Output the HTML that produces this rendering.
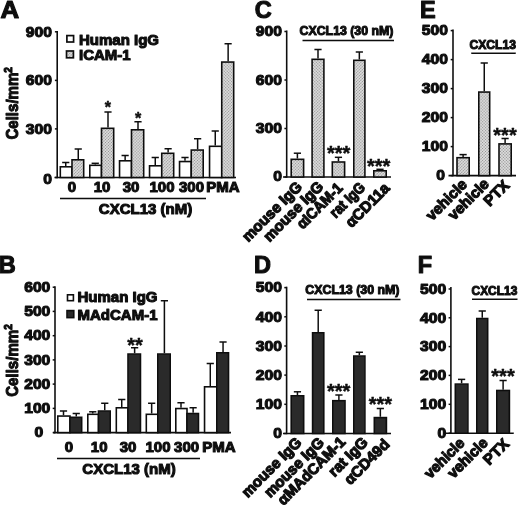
<!DOCTYPE html>
<html lang="en"><head><meta charset="utf-8"><title>CXCL13 adhesion assays</title>
<style>
html,body{margin:0;padding:0;background:#fff;}
svg{display:block;}
svg text{font-family:"Liberation Sans", Arial, Helvetica, sans-serif;font-weight:bold;fill:#111;stroke:#111;stroke-width:1.1px;stroke-linejoin:round;}
</style></head><body>
<svg width="520" height="507" viewBox="0 0 520 507">
<defs><pattern id="ht" width="2.1" height="2.1" patternUnits="userSpaceOnUse" patternTransform="rotate(45)"><rect width="2.1" height="2.1" fill="#e0e0e0"/><circle cx="1.05" cy="1.05" r="0.62" fill="#8c8c8c"/></pattern><filter id="soft" x="0" y="0" width="100%" height="100%" filterUnits="userSpaceOnUse"><feGaussianBlur stdDeviation="0.35"/></filter></defs>
<rect width="520" height="507" fill="#fff"/>
<g filter="url(#soft)">
<text transform="translate(0.4 18.3) scale(1.1 1)" font-size="23.5">A</text>
<line x1="57.2" y1="30.900000000000002" x2="57.2" y2="178.2" stroke="#111" stroke-width="1.6"/>
<line x1="54.900000000000006" y1="31.8" x2="57.2" y2="31.8" stroke="#111" stroke-width="1.5"/>
<text transform="translate(52.00 36.57) scale(1.045 1)" font-size="15" text-anchor="end">900</text>
<line x1="54.900000000000006" y1="80.4" x2="57.2" y2="80.4" stroke="#111" stroke-width="1.5"/>
<text transform="translate(52.00 85.17) scale(1.045 1)" font-size="15" text-anchor="end">600</text>
<line x1="54.900000000000006" y1="128.9" x2="57.2" y2="128.9" stroke="#111" stroke-width="1.5"/>
<text transform="translate(52.00 133.67) scale(1.045 1)" font-size="15" text-anchor="end">300</text>
<line x1="54.900000000000006" y1="177.5" x2="57.2" y2="177.5" stroke="#111" stroke-width="1.5"/>
<text transform="translate(52.00 183.57) scale(1.045 1)" font-size="15" text-anchor="end">0</text>
<line x1="54.5" y1="177.5" x2="236" y2="177.5" stroke="#111" stroke-width="1.6"/>
<rect x="60.30" y="166.80" width="11.70" height="10.70" fill="#fff" stroke="#111" stroke-width="1.6"/>
<line x1="65.75" y1="166" x2="65.75" y2="162.5" stroke="#111" stroke-width="1.5"/>
<line x1="62.15" y1="162.5" x2="69.35" y2="162.5" stroke="#111" stroke-width="1.5"/>
<rect x="72.00" y="159.80" width="11.70" height="17.70" fill="url(#ht)" stroke="#111" stroke-width="1.6"/>
<line x1="78.25" y1="159" x2="78.25" y2="149" stroke="#111" stroke-width="1.5"/>
<line x1="74.65" y1="149" x2="81.85" y2="149" stroke="#111" stroke-width="1.5"/>
<rect x="89.80" y="165.30" width="11.70" height="12.20" fill="#fff" stroke="#111" stroke-width="1.6"/>
<line x1="95.25" y1="164.5" x2="95.25" y2="163.3" stroke="#111" stroke-width="1.5"/>
<line x1="91.65" y1="163.3" x2="98.85" y2="163.3" stroke="#111" stroke-width="1.5"/>
<rect x="101.50" y="128.30" width="12.20" height="49.20" fill="url(#ht)" stroke="#111" stroke-width="1.6"/>
<line x1="108.0" y1="127.5" x2="108.0" y2="112" stroke="#111" stroke-width="1.5"/>
<line x1="104.4" y1="112" x2="111.6" y2="112" stroke="#111" stroke-width="1.5"/>
<rect x="119.55" y="160.80" width="11.95" height="16.70" fill="#fff" stroke="#111" stroke-width="1.6"/>
<line x1="125.125" y1="160" x2="125.125" y2="155.5" stroke="#111" stroke-width="1.5"/>
<line x1="121.525" y1="155.5" x2="128.725" y2="155.5" stroke="#111" stroke-width="1.5"/>
<rect x="131.50" y="129.80" width="12.20" height="47.70" fill="url(#ht)" stroke="#111" stroke-width="1.6"/>
<line x1="138.0" y1="129" x2="138.0" y2="121.75" stroke="#111" stroke-width="1.5"/>
<line x1="134.4" y1="121.75" x2="141.6" y2="121.75" stroke="#111" stroke-width="1.5"/>
<rect x="149.55" y="165.80" width="12.20" height="11.70" fill="#fff" stroke="#111" stroke-width="1.6"/>
<line x1="155.25" y1="165" x2="155.25" y2="157.5" stroke="#111" stroke-width="1.5"/>
<line x1="151.65" y1="157.5" x2="158.85" y2="157.5" stroke="#111" stroke-width="1.5"/>
<rect x="161.75" y="153.30" width="11.95" height="24.20" fill="url(#ht)" stroke="#111" stroke-width="1.6"/>
<line x1="168.125" y1="152.5" x2="168.125" y2="148.75" stroke="#111" stroke-width="1.5"/>
<line x1="164.525" y1="148.75" x2="171.725" y2="148.75" stroke="#111" stroke-width="1.5"/>
<rect x="179.55" y="161.55" width="11.70" height="15.95" fill="#fff" stroke="#111" stroke-width="1.6"/>
<line x1="185.0" y1="160.75" x2="185.0" y2="157.5" stroke="#111" stroke-width="1.5"/>
<line x1="181.4" y1="157.5" x2="188.6" y2="157.5" stroke="#111" stroke-width="1.5"/>
<rect x="191.25" y="150.05" width="11.95" height="27.45" fill="url(#ht)" stroke="#111" stroke-width="1.6"/>
<line x1="197.625" y1="149.25" x2="197.625" y2="138.75" stroke="#111" stroke-width="1.5"/>
<line x1="194.025" y1="138.75" x2="201.225" y2="138.75" stroke="#111" stroke-width="1.5"/>
<rect x="209.55" y="146.30" width="12.20" height="31.20" fill="#fff" stroke="#111" stroke-width="1.6"/>
<line x1="215.25" y1="145.5" x2="215.25" y2="131" stroke="#111" stroke-width="1.5"/>
<line x1="211.65" y1="131" x2="218.85" y2="131" stroke="#111" stroke-width="1.5"/>
<rect x="221.75" y="62.05" width="11.95" height="115.45" fill="url(#ht)" stroke="#111" stroke-width="1.6"/>
<line x1="228.125" y1="61.25" x2="228.125" y2="43.75" stroke="#111" stroke-width="1.5"/>
<line x1="224.525" y1="43.75" x2="231.725" y2="43.75" stroke="#111" stroke-width="1.5"/>
<text x="72" y="192.3" font-size="15" text-anchor="middle">0</text>
<text x="102" y="192.3" font-size="15" text-anchor="middle">10</text>
<text x="131" y="192.3" font-size="15" text-anchor="middle">30</text>
<text x="162" y="192.3" font-size="15" text-anchor="middle">100</text>
<text x="191.5" y="192.3" font-size="15" text-anchor="middle">300</text>
<text x="223" y="192.3" font-size="15" text-anchor="middle">PMA</text>
<line x1="60" y1="198.5" x2="206" y2="198.5" stroke="#111" stroke-width="1.6"/>
<text x="145.5" y="214" font-size="15" text-anchor="middle">CXCL13 (nM)</text>
<text x="107.8" y="112.9" font-size="16" text-anchor="middle" style="stroke-width:0.45px">*</text>
<text x="138.2" y="123.7" font-size="16" text-anchor="middle" style="stroke-width:0.45px">*</text>
<rect x="66.9" y="35.6" width="6.7" height="6.4" fill="#fff" stroke="#111" stroke-width="1.7"/>
<rect x="66.5" y="51" width="6.9" height="6.8" fill="url(#ht)" stroke="#111" stroke-width="1.7"/>
<text x="79" y="45" font-size="15" text-anchor="start">Human IgG</text>
<text x="79" y="60" font-size="15" text-anchor="start">ICAM-1</text>
<text transform="translate(17.7 103.3) rotate(-90) scale(0.875 1)" font-size="17.2" text-anchor="middle">Cells/mm<tspan font-size="11.5" dy="-5.5">2</tspan></text>
<text x="-1.2" y="272.9" font-size="23.5" text-anchor="start">B</text>
<line x1="55" y1="286.3" x2="55" y2="433.3" stroke="#111" stroke-width="1.6"/>
<line x1="52.7" y1="287.2" x2="55" y2="287.2" stroke="#111" stroke-width="1.5"/>
<text transform="translate(50.30 291.97) scale(1.045 1)" font-size="15" text-anchor="end">600</text>
<line x1="52.7" y1="311.4" x2="55" y2="311.4" stroke="#111" stroke-width="1.5"/>
<text transform="translate(50.30 316.17) scale(1.045 1)" font-size="15" text-anchor="end">500</text>
<line x1="52.7" y1="335.7" x2="55" y2="335.7" stroke="#111" stroke-width="1.5"/>
<text transform="translate(50.30 340.47) scale(1.045 1)" font-size="15" text-anchor="end">400</text>
<line x1="52.7" y1="359.9" x2="55" y2="359.9" stroke="#111" stroke-width="1.5"/>
<text transform="translate(50.30 364.67) scale(1.045 1)" font-size="15" text-anchor="end">300</text>
<line x1="52.7" y1="384.1" x2="55" y2="384.1" stroke="#111" stroke-width="1.5"/>
<text transform="translate(50.30 388.87) scale(1.045 1)" font-size="15" text-anchor="end">200</text>
<line x1="52.7" y1="408.4" x2="55" y2="408.4" stroke="#111" stroke-width="1.5"/>
<text transform="translate(50.30 413.17) scale(1.045 1)" font-size="15" text-anchor="end">100</text>
<line x1="52.7" y1="432.6" x2="55" y2="432.6" stroke="#111" stroke-width="1.5"/>
<text transform="translate(43.30 436.67) scale(1.045 1)" font-size="15" text-anchor="end">0</text>
<line x1="53.3" y1="432.6" x2="231" y2="432.6" stroke="#111" stroke-width="1.6"/>
<rect x="57.80" y="416.05" width="12.20" height="16.55" fill="#fff" stroke="#111" stroke-width="1.6"/>
<line x1="63.5" y1="415.25" x2="63.5" y2="411" stroke="#111" stroke-width="1.5"/>
<line x1="59.9" y1="411" x2="67.1" y2="411" stroke="#111" stroke-width="1.5"/>
<rect x="70.00" y="417.30" width="11.70" height="15.30" fill="#2b2b2b" stroke="#111" stroke-width="1.6"/>
<line x1="76.25" y1="416.5" x2="76.25" y2="413.5" stroke="#111" stroke-width="1.5"/>
<line x1="72.65" y1="413.5" x2="79.85" y2="413.5" stroke="#111" stroke-width="1.5"/>
<rect x="87.80" y="414.30" width="10.70" height="18.30" fill="#fff" stroke="#111" stroke-width="1.6"/>
<line x1="92.75" y1="413.5" x2="92.75" y2="411.8" stroke="#111" stroke-width="1.5"/>
<line x1="89.15" y1="411.8" x2="96.35" y2="411.8" stroke="#111" stroke-width="1.5"/>
<rect x="98.50" y="411.05" width="11.70" height="21.55" fill="#2b2b2b" stroke="#111" stroke-width="1.6"/>
<line x1="104.75" y1="410.25" x2="104.75" y2="403.25" stroke="#111" stroke-width="1.5"/>
<line x1="101.15" y1="403.25" x2="108.35" y2="403.25" stroke="#111" stroke-width="1.5"/>
<rect x="116.30" y="407.80" width="11.70" height="24.80" fill="#fff" stroke="#111" stroke-width="1.6"/>
<line x1="121.75" y1="407" x2="121.75" y2="399.5" stroke="#111" stroke-width="1.5"/>
<line x1="118.15" y1="399.5" x2="125.35" y2="399.5" stroke="#111" stroke-width="1.5"/>
<rect x="128.00" y="354.05" width="12.45" height="78.55" fill="#2b2b2b" stroke="#111" stroke-width="1.6"/>
<line x1="134.625" y1="353.25" x2="134.625" y2="347.75" stroke="#111" stroke-width="1.5"/>
<line x1="131.025" y1="347.75" x2="138.225" y2="347.75" stroke="#111" stroke-width="1.5"/>
<rect x="146.30" y="414.30" width="11.50" height="18.30" fill="#fff" stroke="#111" stroke-width="1.6"/>
<line x1="151.65" y1="413.5" x2="151.65" y2="403.25" stroke="#111" stroke-width="1.5"/>
<line x1="148.05" y1="403.25" x2="155.25" y2="403.25" stroke="#111" stroke-width="1.5"/>
<rect x="157.80" y="354.05" width="12.40" height="78.55" fill="#2b2b2b" stroke="#111" stroke-width="1.6"/>
<line x1="164.4" y1="353.25" x2="164.4" y2="300.75" stroke="#111" stroke-width="1.5"/>
<line x1="160.8" y1="300.75" x2="168.0" y2="300.75" stroke="#111" stroke-width="1.5"/>
<rect x="175.80" y="408.55" width="11.20" height="24.05" fill="#fff" stroke="#111" stroke-width="1.6"/>
<line x1="181.0" y1="407.75" x2="181.0" y2="402.75" stroke="#111" stroke-width="1.5"/>
<line x1="177.4" y1="402.75" x2="184.6" y2="402.75" stroke="#111" stroke-width="1.5"/>
<rect x="187.00" y="413.55" width="11.45" height="19.05" fill="#2b2b2b" stroke="#111" stroke-width="1.6"/>
<line x1="193.125" y1="412.75" x2="193.125" y2="407.75" stroke="#111" stroke-width="1.5"/>
<line x1="189.525" y1="407.75" x2="196.725" y2="407.75" stroke="#111" stroke-width="1.5"/>
<rect x="204.55" y="386.80" width="12.25" height="45.80" fill="#fff" stroke="#111" stroke-width="1.6"/>
<line x1="210.275" y1="386" x2="210.275" y2="363.5" stroke="#111" stroke-width="1.5"/>
<line x1="206.675" y1="363.5" x2="213.875" y2="363.5" stroke="#111" stroke-width="1.5"/>
<rect x="216.80" y="352.80" width="11.70" height="79.80" fill="#2b2b2b" stroke="#111" stroke-width="1.6"/>
<line x1="223.05" y1="352" x2="223.05" y2="342" stroke="#111" stroke-width="1.5"/>
<line x1="219.45000000000002" y1="342" x2="226.65" y2="342" stroke="#111" stroke-width="1.5"/>
<text x="69" y="452" font-size="15" text-anchor="middle">0</text>
<text x="99.2" y="452" font-size="15" text-anchor="middle">10</text>
<text x="128" y="452" font-size="15" text-anchor="middle">30</text>
<text x="158" y="452" font-size="15" text-anchor="middle">100</text>
<text x="186.6" y="452" font-size="15" text-anchor="middle">300</text>
<text x="219" y="452" font-size="15" text-anchor="middle">PMA</text>
<line x1="57" y1="458.5" x2="200" y2="458.5" stroke="#111" stroke-width="1.6"/>
<text x="129" y="474" font-size="15" text-anchor="middle">CXCL13 (nM)</text>
<text x="135" y="351.5" font-size="20" text-anchor="middle" style="stroke-width:0.45px">**</text>
<rect x="67.5" y="294.8" width="5.9" height="5.9" fill="#fff" stroke="#111" stroke-width="1.6"/>
<rect x="67" y="310.6" width="6.8" height="7" fill="#2b2b2b" stroke="#111" stroke-width="1.6"/>
<text x="77.5" y="302" font-size="15" text-anchor="start">Human IgG</text>
<text x="77.5" y="319.5" font-size="15" text-anchor="start">MAdCAM-1</text>
<text transform="translate(17.7 360.5) rotate(-90) scale(0.875 1)" font-size="17.2" text-anchor="middle">Cells/mm<tspan font-size="11.5" dy="-5.5">2</tspan></text>
<text x="254.8" y="18.2" font-size="23.5" text-anchor="start">C</text>
<line x1="286.7" y1="30.5" x2="286.7" y2="177.7" stroke="#111" stroke-width="1.6"/>
<line x1="284.4" y1="31.5" x2="286.7" y2="31.5" stroke="#111" stroke-width="1.5"/>
<text transform="translate(282.00 36.27) scale(1.045 1)" font-size="15" text-anchor="end">900</text>
<line x1="284.4" y1="80" x2="286.7" y2="80" stroke="#111" stroke-width="1.5"/>
<text transform="translate(282.00 84.77) scale(1.045 1)" font-size="15" text-anchor="end">600</text>
<line x1="284.4" y1="128.5" x2="286.7" y2="128.5" stroke="#111" stroke-width="1.5"/>
<text transform="translate(282.00 133.27) scale(1.045 1)" font-size="15" text-anchor="end">300</text>
<line x1="284.4" y1="177" x2="286.7" y2="177" stroke="#111" stroke-width="1.5"/>
<text transform="translate(282.00 180.67) scale(1.045 1)" font-size="15" text-anchor="end">0</text>
<line x1="283" y1="177" x2="391" y2="177" stroke="#111" stroke-width="1.6"/>
<rect x="291.20" y="159.30" width="12.40" height="17.70" fill="url(#ht)" stroke="#111" stroke-width="1.6"/>
<line x1="297.4" y1="158.5" x2="297.4" y2="153.2" stroke="#111" stroke-width="1.5"/>
<line x1="293.79999999999995" y1="153.2" x2="301.0" y2="153.2" stroke="#111" stroke-width="1.5"/>
<rect x="312.10" y="59.30" width="11.80" height="117.70" fill="url(#ht)" stroke="#111" stroke-width="1.6"/>
<line x1="318.0" y1="58.5" x2="318.0" y2="49.5" stroke="#111" stroke-width="1.5"/>
<line x1="314.4" y1="49.5" x2="321.6" y2="49.5" stroke="#111" stroke-width="1.5"/>
<rect x="332.30" y="162.00" width="12.30" height="15.00" fill="url(#ht)" stroke="#111" stroke-width="1.6"/>
<line x1="338.45" y1="161.2" x2="338.45" y2="157.3" stroke="#111" stroke-width="1.5"/>
<line x1="334.84999999999997" y1="157.3" x2="342.05" y2="157.3" stroke="#111" stroke-width="1.5"/>
<rect x="353.80" y="60.30" width="11.10" height="116.70" fill="url(#ht)" stroke="#111" stroke-width="1.6"/>
<line x1="359.35" y1="59.5" x2="359.35" y2="52" stroke="#111" stroke-width="1.5"/>
<line x1="355.75" y1="52" x2="362.95000000000005" y2="52" stroke="#111" stroke-width="1.5"/>
<rect x="373.80" y="170.80" width="12.40" height="6.20" fill="url(#ht)" stroke="#111" stroke-width="1.6"/>
<line x1="380.0" y1="170" x2="380.0" y2="169.3" stroke="#111" stroke-width="1.5"/>
<line x1="376.4" y1="169.3" x2="383.6" y2="169.3" stroke="#111" stroke-width="1.5"/>
<text x="299.6" y="34.6" font-size="13.6" text-anchor="start" textLength="93.8" lengthAdjust="spacingAndGlyphs">CXCL13 (30 nM)</text>
<line x1="302.5" y1="40.5" x2="394" y2="40.5" stroke="#111" stroke-width="1.6"/>
<text x="338.6" y="159.7" font-size="20" text-anchor="middle" style="stroke-width:0.45px">***</text>
<text x="378.6" y="172.7" font-size="20" text-anchor="middle" style="stroke-width:0.45px">***</text>
<text transform="translate(303 187.8) rotate(-45) scale(1 1)" font-size="15" text-anchor="end" style="stroke-width:1.2px">mouse IgG</text>
<text transform="translate(324.2 187.6) rotate(-45) scale(1 1)" font-size="15" text-anchor="end" style="stroke-width:1.2px">mouse IgG</text>
<text transform="translate(343.7 189) rotate(-45) scale(0.95 1)" font-size="15" text-anchor="end" style="stroke-width:1.2px">αICAM-1</text>
<text transform="translate(366.2 188.3) rotate(-45) scale(0.89 1)" font-size="15" text-anchor="end" style="stroke-width:1.2px">rat IgG</text>
<text transform="translate(390.5 189.2) rotate(-45) scale(1 1)" font-size="15" text-anchor="end" style="stroke-width:1.2px">αCD11a</text>
<text x="254.1" y="273.1" font-size="23.5" text-anchor="start">D</text>
<line x1="286.6" y1="286.7" x2="286.6" y2="434.2" stroke="#111" stroke-width="1.6"/>
<line x1="284.3" y1="287.6" x2="286.6" y2="287.6" stroke="#111" stroke-width="1.5"/>
<text transform="translate(282.00 292.37) scale(1.045 1)" font-size="15" text-anchor="end">500</text>
<line x1="284.3" y1="316.8" x2="286.6" y2="316.8" stroke="#111" stroke-width="1.5"/>
<text transform="translate(282.00 321.57) scale(1.045 1)" font-size="15" text-anchor="end">400</text>
<line x1="284.3" y1="346" x2="286.6" y2="346" stroke="#111" stroke-width="1.5"/>
<text transform="translate(282.00 350.77) scale(1.045 1)" font-size="15" text-anchor="end">300</text>
<line x1="284.3" y1="375.1" x2="286.6" y2="375.1" stroke="#111" stroke-width="1.5"/>
<text transform="translate(282.00 379.87) scale(1.045 1)" font-size="15" text-anchor="end">200</text>
<line x1="284.3" y1="404.3" x2="286.6" y2="404.3" stroke="#111" stroke-width="1.5"/>
<text transform="translate(282.00 409.07) scale(1.045 1)" font-size="15" text-anchor="end">100</text>
<line x1="284.3" y1="433.5" x2="286.6" y2="433.5" stroke="#111" stroke-width="1.5"/>
<text transform="translate(282.00 438.27) scale(1.045 1)" font-size="15" text-anchor="end">0</text>
<line x1="283" y1="433.5" x2="391" y2="433.5" stroke="#111" stroke-width="1.6"/>
<rect x="291.20" y="395.80" width="12.50" height="37.70" fill="#2b2b2b" stroke="#111" stroke-width="1.6"/>
<line x1="297.45" y1="395" x2="297.45" y2="391.8" stroke="#111" stroke-width="1.5"/>
<line x1="293.84999999999997" y1="391.8" x2="301.05" y2="391.8" stroke="#111" stroke-width="1.5"/>
<rect x="312.60" y="332.80" width="11.20" height="100.70" fill="#2b2b2b" stroke="#111" stroke-width="1.6"/>
<line x1="318.20000000000005" y1="332" x2="318.20000000000005" y2="310.25" stroke="#111" stroke-width="1.5"/>
<line x1="314.6" y1="310.25" x2="321.80000000000007" y2="310.25" stroke="#111" stroke-width="1.5"/>
<rect x="332.80" y="400.70" width="12.20" height="32.80" fill="#2b2b2b" stroke="#111" stroke-width="1.6"/>
<line x1="338.9" y1="399.9" x2="338.9" y2="395" stroke="#111" stroke-width="1.5"/>
<line x1="335.29999999999995" y1="395" x2="342.5" y2="395" stroke="#111" stroke-width="1.5"/>
<rect x="353.80" y="356.05" width="11.10" height="77.45" fill="#2b2b2b" stroke="#111" stroke-width="1.6"/>
<line x1="359.35" y1="355.25" x2="359.35" y2="352.25" stroke="#111" stroke-width="1.5"/>
<line x1="355.75" y1="352.25" x2="362.95000000000005" y2="352.25" stroke="#111" stroke-width="1.5"/>
<rect x="374.30" y="417.60" width="12.10" height="15.90" fill="#2b2b2b" stroke="#111" stroke-width="1.6"/>
<line x1="380.35" y1="416.8" x2="380.35" y2="408.5" stroke="#111" stroke-width="1.5"/>
<line x1="376.75" y1="408.5" x2="383.95000000000005" y2="408.5" stroke="#111" stroke-width="1.5"/>
<text x="305.3" y="293.9" font-size="13.6" text-anchor="start" textLength="94.2" lengthAdjust="spacingAndGlyphs">CXCL13 (30 nM)</text>
<line x1="307" y1="299.5" x2="400.5" y2="299.5" stroke="#111" stroke-width="1.6"/>
<text x="338.7" y="397.7" font-size="20" text-anchor="middle" style="stroke-width:0.45px">***</text>
<text x="380.4" y="410.8" font-size="20" text-anchor="middle" style="stroke-width:0.45px">***</text>
<text transform="translate(302.5 443.4) rotate(-45) scale(1 1)" font-size="15" text-anchor="end" style="stroke-width:1.2px">mouse IgG</text>
<text transform="translate(325 443.5) rotate(-45) scale(1 1)" font-size="15" text-anchor="end" style="stroke-width:1.2px">mouse IgG</text>
<text transform="translate(346.5 442.8) rotate(-45) scale(1 1)" font-size="15" text-anchor="end" style="stroke-width:1.2px">αMAdCAM-1</text>
<text transform="translate(368.8 443.2) rotate(-45) scale(1 1)" font-size="15" text-anchor="end" style="stroke-width:1.2px">rat IgG</text>
<text transform="translate(390.4 445.3) rotate(-45) scale(1 1)" font-size="15" text-anchor="end" style="stroke-width:1.2px">αCD49d</text>
<text x="420.1" y="18.3" font-size="23.5" text-anchor="start">E</text>
<line x1="453.0" y1="29.6" x2="453.0" y2="176.29999999999998" stroke="#111" stroke-width="1.6"/>
<line x1="450.7" y1="30.6" x2="453.0" y2="30.6" stroke="#111" stroke-width="1.5"/>
<text transform="translate(448.00 35.37) scale(1.045 1)" font-size="15" text-anchor="end">500</text>
<line x1="450.7" y1="59.6" x2="453.0" y2="59.6" stroke="#111" stroke-width="1.5"/>
<text transform="translate(448.00 64.37) scale(1.045 1)" font-size="15" text-anchor="end">400</text>
<line x1="450.7" y1="88.6" x2="453.0" y2="88.6" stroke="#111" stroke-width="1.5"/>
<text transform="translate(448.00 93.37) scale(1.045 1)" font-size="15" text-anchor="end">300</text>
<line x1="450.7" y1="117.6" x2="453.0" y2="117.6" stroke="#111" stroke-width="1.5"/>
<text transform="translate(448.00 122.37) scale(1.045 1)" font-size="15" text-anchor="end">200</text>
<line x1="450.7" y1="146.6" x2="453.0" y2="146.6" stroke="#111" stroke-width="1.5"/>
<text transform="translate(448.00 151.37) scale(1.045 1)" font-size="15" text-anchor="end">100</text>
<line x1="450.7" y1="175.6" x2="453.0" y2="175.6" stroke="#111" stroke-width="1.5"/>
<text transform="translate(445.00 180.37) scale(1.045 1)" font-size="15" text-anchor="end">0</text>
<line x1="448.5" y1="175.6" x2="516" y2="175.6" stroke="#111" stroke-width="1.6"/>
<rect x="457.00" y="157.70" width="12.20" height="17.90" fill="url(#ht)" stroke="#111" stroke-width="1.6"/>
<line x1="463.1" y1="156.9" x2="463.1" y2="154.6" stroke="#111" stroke-width="1.5"/>
<line x1="459.5" y1="154.6" x2="466.70000000000005" y2="154.6" stroke="#111" stroke-width="1.5"/>
<rect x="478.80" y="92.05" width="10.90" height="83.55" fill="url(#ht)" stroke="#111" stroke-width="1.6"/>
<line x1="484.25" y1="91.25" x2="484.25" y2="63" stroke="#111" stroke-width="1.5"/>
<line x1="480.65" y1="63" x2="487.85" y2="63" stroke="#111" stroke-width="1.5"/>
<rect x="499.00" y="143.90" width="12.20" height="31.70" fill="url(#ht)" stroke="#111" stroke-width="1.6"/>
<line x1="505.1" y1="143.1" x2="505.1" y2="138.5" stroke="#111" stroke-width="1.5"/>
<line x1="501.5" y1="138.5" x2="508.70000000000005" y2="138.5" stroke="#111" stroke-width="1.5"/>
<text x="469.5" y="48.7" font-size="13.6" text-anchor="start" textLength="46.5" lengthAdjust="spacingAndGlyphs">CXCL13</text>
<line x1="471.25" y1="53.25" x2="515.75" y2="53.25" stroke="#111" stroke-width="1.6"/>
<text x="505" y="141.7" font-size="20" text-anchor="middle" style="stroke-width:0.45px">***</text>
<text transform="translate(468 185.3) rotate(-45) scale(1 1)" font-size="15" text-anchor="end" style="stroke-width:1.2px">vehicle</text>
<text transform="translate(490 184.8) rotate(-45) scale(1 1)" font-size="15" text-anchor="end" style="stroke-width:1.2px">vehicle</text>
<text transform="translate(510.3 186.3) rotate(-45) scale(1 1)" font-size="15" text-anchor="end" style="stroke-width:1.2px">PTX</text>
<text x="417.8" y="273.2" font-size="23.5" text-anchor="start">F</text>
<line x1="450.9" y1="287.0" x2="450.9" y2="433.9" stroke="#111" stroke-width="1.6"/>
<line x1="448.59999999999997" y1="289" x2="450.9" y2="289" stroke="#111" stroke-width="1.5"/>
<text transform="translate(446.20 293.77) scale(1.045 1)" font-size="15" text-anchor="end">500</text>
<line x1="448.59999999999997" y1="317.8" x2="450.9" y2="317.8" stroke="#111" stroke-width="1.5"/>
<text transform="translate(446.20 322.57) scale(1.045 1)" font-size="15" text-anchor="end">400</text>
<line x1="448.59999999999997" y1="346.6" x2="450.9" y2="346.6" stroke="#111" stroke-width="1.5"/>
<text transform="translate(446.20 351.37) scale(1.045 1)" font-size="15" text-anchor="end">300</text>
<line x1="448.59999999999997" y1="375.4" x2="450.9" y2="375.4" stroke="#111" stroke-width="1.5"/>
<text transform="translate(446.20 380.17) scale(1.045 1)" font-size="15" text-anchor="end">200</text>
<line x1="448.59999999999997" y1="404.3" x2="450.9" y2="404.3" stroke="#111" stroke-width="1.5"/>
<text transform="translate(446.20 409.07) scale(1.045 1)" font-size="15" text-anchor="end">100</text>
<line x1="448.59999999999997" y1="433.2" x2="450.9" y2="433.2" stroke="#111" stroke-width="1.5"/>
<text transform="translate(446.20 437.97) scale(1.045 1)" font-size="15" text-anchor="end">0</text>
<line x1="446" y1="433.2" x2="513.75" y2="433.2" stroke="#111" stroke-width="1.6"/>
<rect x="455.30" y="384.10" width="12.60" height="49.10" fill="#2b2b2b" stroke="#111" stroke-width="1.6"/>
<line x1="461.6" y1="383.3" x2="461.6" y2="379.4" stroke="#111" stroke-width="1.5"/>
<line x1="458.0" y1="379.4" x2="465.20000000000005" y2="379.4" stroke="#111" stroke-width="1.5"/>
<rect x="476.80" y="318.55" width="10.90" height="114.65" fill="#2b2b2b" stroke="#111" stroke-width="1.6"/>
<line x1="482.25" y1="317.75" x2="482.25" y2="311" stroke="#111" stroke-width="1.5"/>
<line x1="478.65" y1="311" x2="485.85" y2="311" stroke="#111" stroke-width="1.5"/>
<rect x="496.80" y="390.50" width="12.60" height="42.70" fill="#2b2b2b" stroke="#111" stroke-width="1.6"/>
<line x1="503.1" y1="389.7" x2="503.1" y2="380.5" stroke="#111" stroke-width="1.5"/>
<line x1="499.5" y1="380.5" x2="506.70000000000005" y2="380.5" stroke="#111" stroke-width="1.5"/>
<text x="471.5" y="294.5" font-size="13.6" text-anchor="start" textLength="45.8" lengthAdjust="spacingAndGlyphs">CXCL13</text>
<line x1="472" y1="299.3" x2="517.5" y2="299.3" stroke="#111" stroke-width="1.6"/>
<text x="503" y="383.0" font-size="20" text-anchor="middle" style="stroke-width:0.45px">***</text>
<text transform="translate(465.5 444) rotate(-45) scale(0.98 1)" font-size="15" text-anchor="end" style="stroke-width:1.2px">vehicle</text>
<text transform="translate(488.7 443.8) rotate(-45) scale(0.98 1)" font-size="15" text-anchor="end" style="stroke-width:1.2px">vehicle</text>
<text transform="translate(510 445) rotate(-45) scale(1 1)" font-size="15" text-anchor="end" style="stroke-width:1.2px">PTX</text>
</g>
</svg>
</body></html>
